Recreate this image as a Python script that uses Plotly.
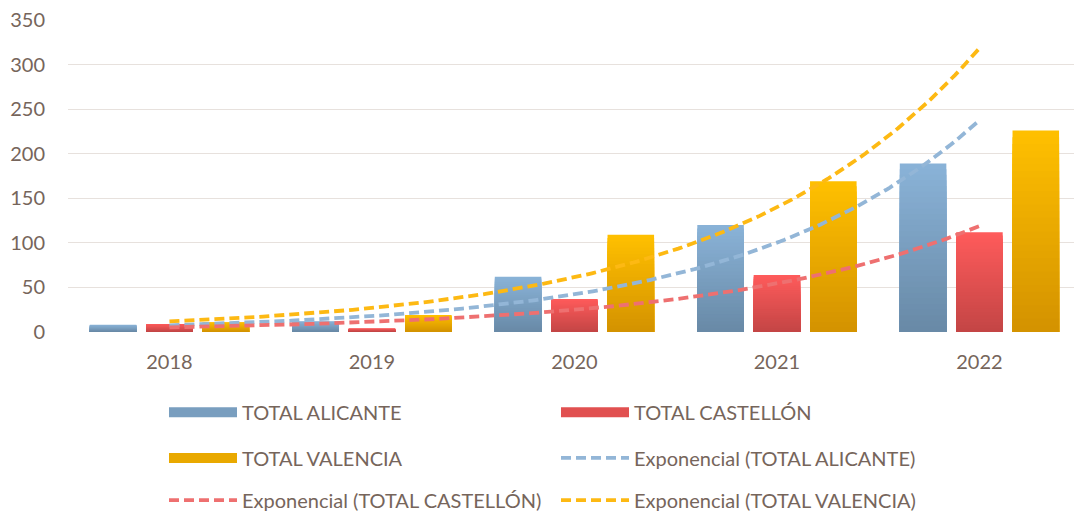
import numpy as np
import plotly.graph_objects as go

# Data
years = [2018, 2019, 2020, 2021, 2022]
alicante = [8, 12, 62, 120, 189]
castellon = [9, 4, 37, 64, 112]
valencia = [11, 19, 109, 169, 226]

# name, values, bar colour (bottom, top), trendline colour, legend rows
series = [
    ("TOTAL ALICANTE", alicante, ("#6889A6", "#8AB3D8"), "#93B6D7", "legend", "legend2"),
    ("TOTAL CASTELLÓN", castellon, ("#C34545", "#FF5B5B"), "#EE7070", "legend", "legend3"),
    ("TOTAL VALENCIA", valencia, ("#D39200", "#FFC000"), "#FDB913", "legend2", "legend3"),
]

text_color = "#76655B"
font_family = "Lato, 'Open Sans', sans-serif"
fs = 20
N_SHADES = 30


def hex_rgb(h):
    h = h.lstrip("#")
    return np.array([int(h[i:i + 2], 16) for i in (0, 2, 4)], dtype=float)


def blend(c0, c1, t):
    c = hex_rgb(c0) * (1 - t) + hex_rgb(c1) * t
    return "rgb({:.0f},{:.0f},{:.0f})".format(*c)


fig = go.Figure()

# Bars: overlaid bars of decreasing height (lightest/tallest first) give each
# bar a shade running from dark at the base to light at the top.
for idx, (name, vals, (c_bot, c_top), _, _, _) in enumerate(series):
    vals = np.array(vals, dtype=float)
    for k in range(N_SHADES - 1, -1, -1):
        fig.add_trace(go.Bar(
            x=years, y=vals * (k + 1) / N_SHADES,
            offsetgroup=str(idx), name=name,
            marker=dict(color=blend(c_bot, c_top, (k + 0.5) / N_SHADES),
                        line=dict(width=0)),
            showlegend=False, hoverinfo="skip",
        ))

# Legend keys for the bar series
for name, vals, (c_bot, c_top), _, lg, _ in series:
    fig.add_trace(go.Scatter(
        x=[None], y=[None], mode="lines", name=name,
        line=dict(color=blend(c_bot, c_top, 0.5), width=14),
        legend=lg,
    ))

# Exponential trendlines: least-squares fit of ln(y) against year
xs = np.linspace(years[0], years[-1], 200)
for name, vals, _, line_col, _, lg in series:
    b, a = np.polyfit(np.array(years) - years[0], np.log(vals), 1)
    ys = np.exp(a + b * (xs - years[0]))
    fig.add_trace(go.Scatter(
        x=xs, y=ys, mode="lines", name=f"Exponencial ({name})",
        line=dict(color=line_col, width=3.8, dash="10px,5px"),
        legend=lg, hoverinfo="skip",
    ))

legend_common = dict(
    orientation="h", xanchor="left", yanchor="middle",
    xref="container", yref="container",
    entrywidth=309, entrywidthmode="pixels", itemwidth=68,
    font=dict(family=font_family, size=fs, color=text_color),
    bgcolor="rgba(0,0,0,0)", traceorder="normal",
)

fig.update_layout(
    width=1074, height=514,
    margin=dict(l=68, r=0, t=20, b=182, autoexpand=False),
    paper_bgcolor="white", plot_bgcolor="white",
    barmode="group", bargap=0.165, bargroupgap=0.174,
    font=dict(family=font_family, size=fs, color=text_color),
    xaxis=dict(
        range=[2017.499, 2022.467], tickmode="array", tickvals=years,
        ticktext=[str(y) for y in years], showgrid=False, zeroline=False,
        showline=False, ticks="", ticklabelstandoff=16,
        tickfont=dict(family=font_family, size=fs, color=text_color),
    ),
    yaxis=dict(
        range=[0, 350], dtick=50, showgrid=True, gridcolor="#E7E1DD",
        gridwidth=1.3, zeroline=False, showline=False, ticks="",
        ticklabelstandoff=22,
        tickfont=dict(family=font_family, size=fs, color=text_color),
    ),
    legend=dict(legend_common, x=0.1527, y=0.198),
    legend2=dict(legend_common, x=0.1527, y=0.109),
    legend3=dict(legend_common, x=0.1527, y=0.027),
    showlegend=True,
)

fig.write_html("out.html")
